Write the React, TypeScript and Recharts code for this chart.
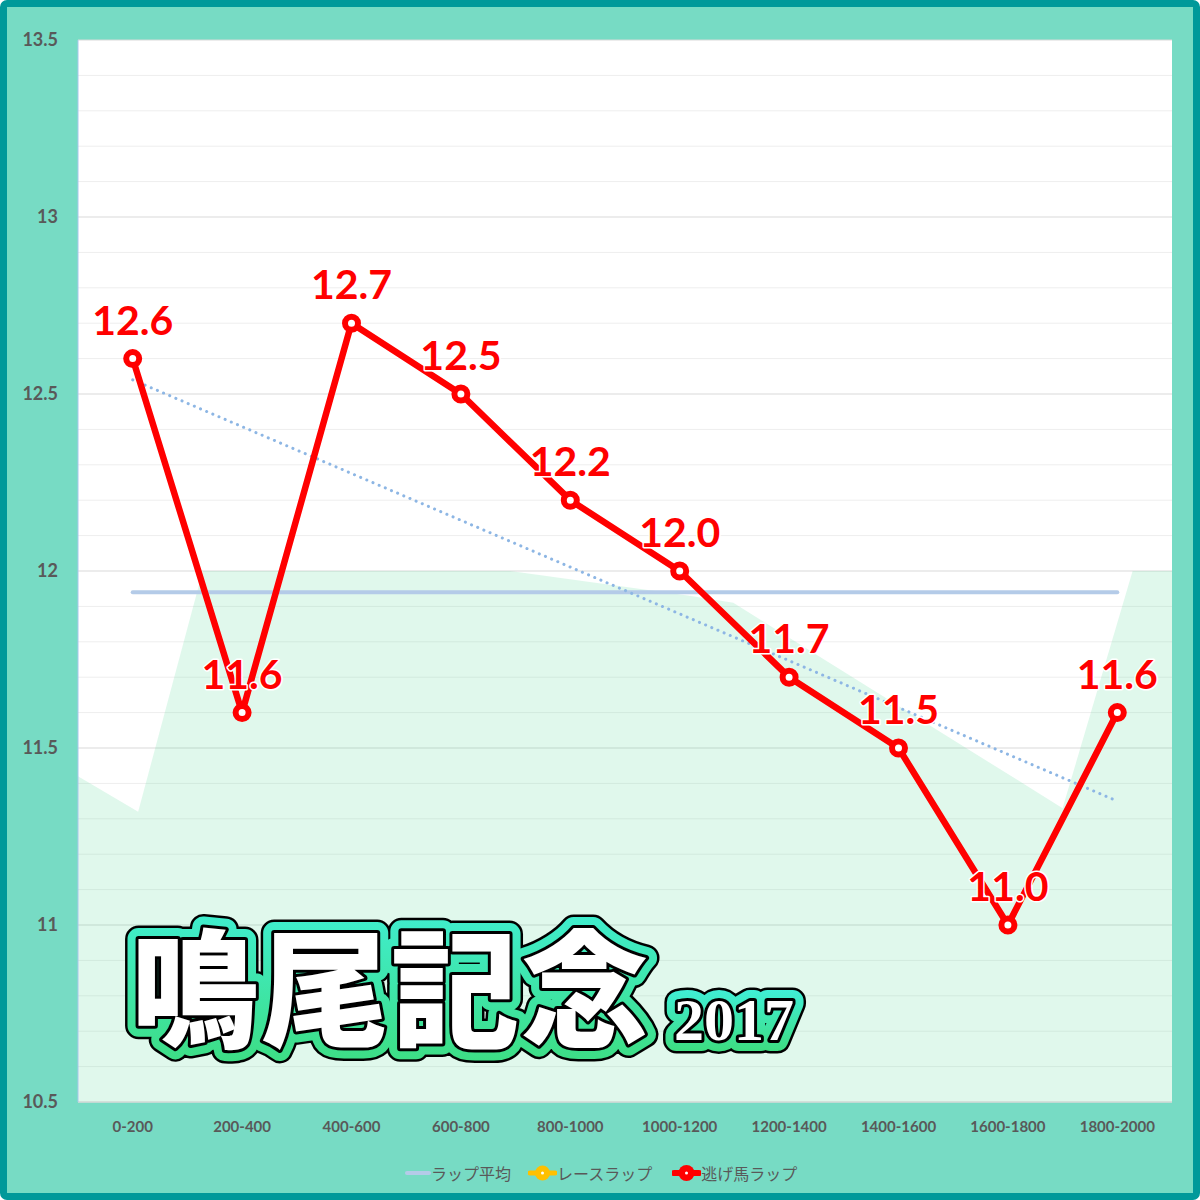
import {
  ComposedChart,
  Line,
  Area,
  XAxis,
  YAxis,
  CartesianGrid,
} from "recharts";

// section names along the x axis
const categories = [
  "0-200",
  "200-400",
  "400-600",
  "600-800",
  "800-1000",
  "1000-1200",
  "1200-1400",
  "1400-1600",
  "1600-1800",
  "1800-2000",
];
// 逃げ馬ラップ
const nigeLap = [12.6, 11.6, 12.7, 12.5, 12.2, 12.0, 11.7, 11.5, 11.0, 11.6];
// レースラップ (same as the front runner, hidden under the red line)
const raceLap = [12.6, 11.6, 12.7, 12.5, 12.2, 12.0, 11.7, 11.5, 11.0, 11.6];
// ラップ平均
const avgLap = [11.94, 11.94, 11.94, 11.94, 11.94, 11.94, 11.94, 11.94, 11.94, 11.94];
// dotted trend line, first and last section
const trendEnds = [12.54, 11.35];
// pale green backdrop shape (x in section units)
const backdropX = [0, 0.55, 1.14, 3.95, 5.59, 5.99, 9.0, 9.64, 10];
const backdropY = [11.42, 11.32, 12.0, 12.0, 11.93, 11.91, 11.33, 12.0, 12.0];

const yTicks = [10.5, 11, 11.5, 12, 12.5, 13, 13.5];
const yMinor = [
  10.6, 10.7, 10.8, 10.9, 11.1, 11.2, 11.3, 11.4, 11.6, 11.7, 11.8, 11.9,
  12.1, 12.2, 12.3, 12.4, 12.6, 12.7, 12.8, 12.9, 13.1, 13.2, 13.3, 13.4,
];

type Row = {
  x: number;
  nige?: number | null;
  race?: number | null;
  avg?: number | null;
  trend?: number | null;
  bg?: number | null;
};

const rows: Row[] = [
  ...categories.map((_, i) => ({
    x: i + 0.5,
    nige: nigeLap[i],
    race: raceLap[i],
    avg: avgLap[i],
    trend: i === 0 ? trendEnds[0] : i === categories.length - 1 ? trendEnds[1] : null,
    bg: null,
  })),
  ...backdropX.map((x, i) => ({ x, bg: backdropY[i] })),
].sort((a, b) => a.x - b.x);

const xTicks = categories.map((_, i) => i + 0.5);

const RED = "#FF0000";
const GRAY = "#595959";

const renderLabel = (props: any) => {
  const { x, y, value } = props;
  if (value == null || x == null || y == null) return <g />;
  return (
    <text
      x={x}
      y={y - 24}
      textAnchor="middle"
      fontFamily="Lato, 'Open Sans', sans-serif"
      fontWeight={700}
      fontSize={41}
      fill={RED}
      stroke="#FFFFFF"
      strokeWidth={3}
      paintOrder="stroke"
      strokeLinejoin="round"
    >
      {Number(value).toFixed(1)}
    </text>
  );
};

const Title = () => {
  const big = {
    x: 131,
    y: 1038,
    fontSize: 128,
    fontFamily: "'Noto Sans CJK JP', sans-serif",
    fontWeight: 900,
    letterSpacing: 2,
  };
  const year = {
    x: 674,
    y: 1040,
    fontSize: 60,
    fontFamily: "'Liberation Serif', 'DejaVu Serif', serif",
    fontWeight: 700,
  };
  const layer = (stroke: string, w: number, key: string) => (
    <g key={key} fill="none" stroke={stroke} strokeWidth={w} strokeLinejoin="round">
      <text {...big}>鳴尾記念</text>
      <text {...year}>2017</text>
    </g>
  );
  return (
    <svg
      width={1200}
      height={1200}
      style={{ position: "absolute", left: 0, top: 0, pointerEvents: "none" }}
    >
      <defs>
        <linearGradient id="title-grad" x1="0" y1="0" x2="0" y2="1">
          <stop offset="0%" stopColor="#40F0DA" />
          <stop offset="100%" stopColor="#3DDC7E" />
        </linearGradient>
      </defs>
      {layer("#000000", 27, "a")}
      {layer("url(#title-grad)", 22, "b")}
      {layer("#000000", 6, "c")}
      <g fill="#FFFFFF">
        <text {...big}>鳴尾記念</text>
        <text {...year}>2017</text>
      </g>
    </svg>
  );
};

const LegendRow = () => {
  const text = {
    fontFamily: "'Noto Sans CJK JP', sans-serif",
    fontSize: 16,
    color: GRAY,
  };
  return (
    <div
      style={{
        position: "absolute",
        left: 405,
        top: 1162,
        height: 22,
        display: "flex",
        alignItems: "center",
      }}
    >
      <svg width={26} height={22}>
        <line x1={2} y1={11} x2={24} y2={11} stroke="#B4CBE8" strokeWidth={4} strokeLinecap="round" />
      </svg>
      <span style={{ ...text, marginRight: 17 }}>ラップ平均</span>
      <svg width={29} height={22}>
        <line x1={2} y1={11} x2={27} y2={11} stroke="#FFC000" strokeWidth={5} strokeLinecap="round" />
        <circle cx={14.5} cy={11} r={7.5} fill="#FFC000" />
        <circle cx={14.5} cy={11} r={1.5} fill="#FFFFFF" />
      </svg>
      <span style={{ ...text, marginRight: 20 }}>レースラップ</span>
      <svg width={29} height={22}>
        <line x1={2} y1={11} x2={27} y2={11} stroke={RED} strokeWidth={6} strokeLinecap="round" />
        <circle cx={14.5} cy={11} r={8} fill={RED} />
        <circle cx={14.5} cy={11} r={1.5} fill="#FFFFFF" />
      </svg>
      <span style={text}>逃げ馬ラップ</span>
    </div>
  );
};

export default function App() {
  return (
    <div
      style={{
        position: "absolute",
        left: 0,
        top: 0,
        width: 1200,
        height: 1200,
        background: "#FFFFFF",
      }}
    >
      <div
        style={{
          position: "absolute",
          inset: 0,
          boxSizing: "border-box",
          border: "7px solid #00999A",
          borderRadius: 7,
          background: "#77DBC4",
        }}
      />
      <div style={{ position: "absolute", left: 0, top: 0 }}>
        <ComposedChart
          width={1200}
          height={1200}
          data={rows}
          margin={{ top: 40, right: 28, bottom: 58, left: 8 }}
        >
          <CartesianGrid
            vertical={false}
            horizontalValues={yMinor}
            stroke="#EEEEEE"
            fill="#FFFFFF"
            fillOpacity={1}
          />
          <CartesianGrid vertical={false} horizontalValues={yTicks} stroke="#D9D9D9" />
          <XAxis
            dataKey="x"
            type="number"
            domain={[0, 10]}
            ticks={xTicks}
            allowDecimals
            tickFormatter={(v: number) => categories[Math.round(v - 0.5)] ?? ""}
            height={40}
            tickSize={0}
            tickMargin={19}
            axisLine={{ stroke: "#D9D9D9" }}
            tick={{
              fill: GRAY,
              fontSize: 15,
              fontWeight: 700,
              fontFamily: "Lato, 'Open Sans', sans-serif",
            }}
          />
          <YAxis
            type="number"
            domain={[10.5, 13.5]}
            ticks={yTicks}
            allowDataOverflow
            width={70}
            tickSize={0}
            tickMargin={20}
            axisLine={{ stroke: "#A9C6EC" }}
            tick={{
              fill: GRAY,
              fontSize: 18,
              fontWeight: 700,
              fontFamily: "Lato, 'Open Sans', sans-serif",
            }}
          />
          <Area
            dataKey="bg"
            type="linear"
            connectNulls
            baseValue={10.5}
            stroke="none"
            fill="#64DCA0"
            fillOpacity={0.2}
            dot={false}
            activeDot={false}
            isAnimationActive={false}
          />
          <Line
            dataKey="avg"
            type="linear"
            connectNulls
            stroke="#B4CBE8"
            strokeWidth={4}
            strokeLinecap="round"
            dot={false}
            activeDot={false}
            isAnimationActive={false}
          />
          <Line
            dataKey="trend"
            type="linear"
            connectNulls
            stroke="#8DB6E4"
            strokeWidth={3}
            strokeDasharray="0.1 6.6"
            strokeLinecap="round"
            dot={false}
            activeDot={false}
            isAnimationActive={false}
          />
          <Line
            dataKey="race"
            type="linear"
            connectNulls
            stroke="#FFC000"
            strokeWidth={5}
            dot={{ r: 6, fill: "#FFC000", stroke: "#FFC000", strokeWidth: 1 }}
            activeDot={false}
            isAnimationActive={false}
          />
          <Line
            dataKey="nige"
            type="linear"
            connectNulls
            stroke={RED}
            strokeWidth={6.5}
            strokeLinejoin="round"
            dot={{ r: 6.5, fill: "#FFFFFF", stroke: RED, strokeWidth: 6 }}
            activeDot={false}
            label={renderLabel}
            isAnimationActive={false}
          />
        </ComposedChart>
      </div>
      <Title />
      <LegendRow />
    </div>
  );
}
